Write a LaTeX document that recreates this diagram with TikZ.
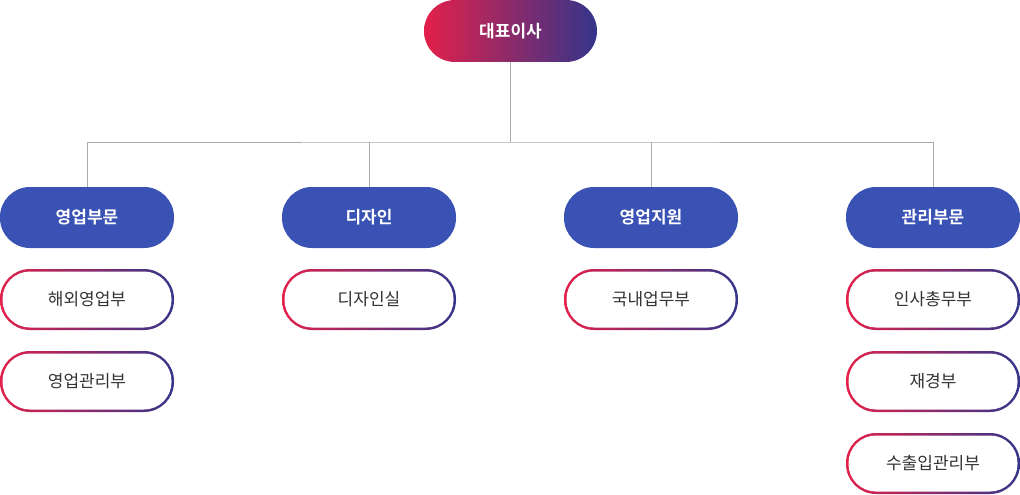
\documentclass[tikz,border=0pt]{standalone}
\usepackage{fontspec}
\newfontfamily\kr{Noto Sans CJK KR}
\newfontfamily\krb{Noto Sans CJK KR Bold}
\usetikzlibrary{shadings}
\definecolor{cred}{HTML}{E3204A}
\definecolor{cnavy}{HTML}{34358A}
\definecolor{cblue}{HTML}{3A52B4}
\definecolor{cline}{HTML}{AAAAAA}
\definecolor{ctext}{HTML}{333333}
\tikzset{x=1pt,y=-1pt,
 conn/.style={draw=cline,line width=1pt},
 head/.style={font=\krb\fontsize{17}{20}\selectfont,text=white},
 sub/.style={font=\kr\fontsize{17}{20}\selectfont,text=ctext}}
\newcommand\gradbox[4]{%
 \shade[left color=cred,right color=cnavy,rounded corners=30pt] (#2-87,#3-30.5) rectangle (#2+87,#3+30.5);
 \fill[white,rounded corners=27.5pt] (#2-84.5,#3-28) rectangle (#2+84.5,#3+28);
 \node[sub] (#1) at (#2,#3) {#4};}
\newcommand\bluebox[4]{%
 \fill[cblue,rounded corners=30pt] (#2-87,#3-30.5) rectangle (#2+87,#3+30.5);
 \node[head] (#1) at (#2,#3) {#4};
 \coordinate (#1t) at (#2,#3-30.5);}
\begin{document}
\begin{tikzpicture}
\useasboundingbox (0,0) rectangle (1020,495);
\shade[left color=cred,right color=cnavy,rounded corners=31pt] (424,0) rectangle (597,62);
\node[head] (ceo) at (510.5,31) {대표이사};
\coordinate (ceob) at (510.5,62);
\coordinate (bus) at (510.5,142);
\bluebox{a}{87}{217.5}{영업부문}
\bluebox{b}{369}{217.5}{디자인}
\bluebox{c}{651}{217.5}{영업지원}
\bluebox{d}{933}{217.5}{관리부문}
\draw[conn] (ceob) -- (bus);
\draw[conn] (at) |- (bus) -| (dt);
\draw[conn] (bt) -- (bt|-bus);
\draw[conn] (ct) -- (ct|-bus);
\gradbox{a1}{87}{299.5}{해외영업부}
\gradbox{a2}{87}{381.5}{영업관리부}
\gradbox{b1}{369}{299.5}{디자인실}
\gradbox{c1}{651}{299.5}{국내업무부}
\gradbox{d1}{933}{299.5}{인사총무부}
\gradbox{d2}{933}{381.5}{재경부}
\gradbox{d3}{933}{463.5}{수출입관리부}
\end{tikzpicture}
\end{document}
